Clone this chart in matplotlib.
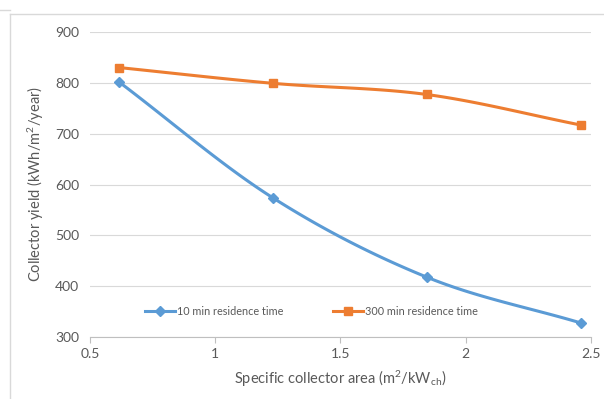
import numpy as np
import matplotlib
matplotlib.use("Agg")
import matplotlib.pyplot as plt
from matplotlib.lines import Line2D

plt.rcParams['font.family'] = ['Lato', 'DejaVu Sans']
plt.rcParams['mathtext.fontset'] = 'custom'
plt.rcParams['mathtext.rm'] = 'Lato'
plt.rcParams['mathtext.it'] = 'Lato:italic'

# data
area = [0.615, 1.23, 1.845, 2.46]
yield_10min = [802, 574, 418, 328]
yield_300min = [830, 799, 777, 717]
labels = ["10 min residence time", "300 min residence time"]

blue = "#5B9BD5"
orange = "#ED7D31"
grey_txt = "#595959"


def smooth(xs, ys, n=40):
    # Excel-style smoothed line (Catmull-Rom through the points)
    xs = np.asarray(xs, float)
    ys = np.asarray(ys, float)
    px = np.concatenate([[2 * xs[0] - xs[1]], xs, [2 * xs[-1] - xs[-2]]])
    py = np.concatenate([[2 * ys[0] - ys[1]], ys, [2 * ys[-1] - ys[-2]]])
    outx, outy = [], []
    t = np.linspace(0, 1, n)
    for i in range(1, len(px) - 2):
        for p, out in ((px, outx), (py, outy)):
            p0, p1, p2, p3 = p[i - 1], p[i], p[i + 1], p[i + 2]
            out.extend(0.5 * (2 * p1 + (-p0 + p2) * t
                              + (2 * p0 - 5 * p1 + 4 * p2 - p3) * t ** 2
                              + (-p0 + 3 * p1 - 3 * p2 + p3) * t ** 3))
    return outx, outy


fig = plt.figure(figsize=(6.04, 3.99), dpi=100)
ax = fig.add_axes([0.149, 0.155, 0.829, 0.765])

for ys, c, m, ms, lab in [(yield_10min, blue, 'D', 5, labels[0]),
                          (yield_300min, orange, 's', 6, labels[1])]:
    sx, sy = smooth(area, ys)
    ax.plot(sx, sy, color=c, lw=2.2, solid_capstyle='round', zorder=3)
    ax.plot(area, ys, ls='none', marker=m, ms=ms, color=c, zorder=4)

ax.set_xlim(0.5, 2.5)
ax.set_ylim(300, 900)
ax.set_xticks([0.5, 1, 1.5, 2, 2.5])
ax.set_xticklabels(['0.5', '1', '1.5', '2', '2.5'])
ax.set_yticks(range(300, 901, 100))
ax.grid(axis='y', color='#d9d9d9', lw=0.8)
ax.set_axisbelow(True)
for s in ['top', 'right', 'left']:
    ax.spines[s].set_visible(False)
ax.spines['bottom'].set_color('#bfbfbf')
ax.tick_params(axis='y', length=0, labelsize=10, labelcolor=grey_txt, pad=8)
ax.tick_params(axis='x', length=4, color='#bfbfbf', labelsize=10,
               labelcolor=grey_txt, pad=4)

ax.set_xlabel("Specific collector area (m$^2$/kW$_{\\mathrm{ch}}$)",
              fontsize=10.5, color=grey_txt, labelpad=6)
ax.set_ylabel("Collector yield (kWh/m$^2$/year)", fontsize=10.5,
              color=grey_txt, labelpad=6)

handles = [Line2D([], [], color=blue, lw=2.2, marker='D', ms=5),
           Line2D([], [], color=orange, lw=2.2, marker='s', ms=6)]
ax.legend(handles, labels, loc='lower left', bbox_to_anchor=(0.09, 0.035),
          ncol=2, frameon=False, fontsize=7.8, labelcolor=grey_txt,
          handlelength=2.8, handletextpad=0.15, columnspacing=4.6)

# chart area border
fig.add_artist(Line2D([10 / 604, 1], [1 - 14 / 399, 1 - 14 / 399],
                      color='#d9d9d9', lw=1))
fig.add_artist(Line2D([10 / 604, 10 / 604], [0, 1 - 14 / 399],
                      color='#d9d9d9', lw=1))
fig.add_artist(Line2D([0, 10 / 604], [1 - 10 / 399, 1 - 10 / 399],
                      color='#d9d9d9', lw=1))

fig.savefig("out.png", dpi=100)
